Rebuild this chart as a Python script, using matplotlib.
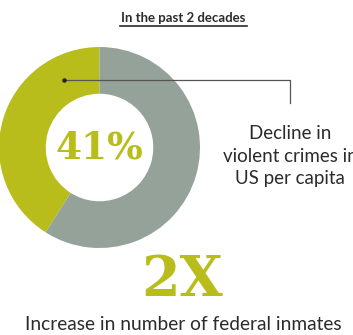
import matplotlib.pyplot as plt

# data
shares = [41, 59]
share_labels = ["Decline", "Rest"]
colors = ["#b9bd1b", "#94a29a"]
big_pct = "41%"
big_multiplier = "2X"
title = "In the past 2 decades"
note_pct = "Decline in\nviolent crimes in\nUS per capita"
note_mult = "Increase in number of federal inmates"

W, H = 353, 335
fig = plt.figure(figsize=(W / 100, H / 100), dpi=100)

# donut
pie_ax = fig.add_axes([-1 / W, (H - 248) / H, 201 / W, 201 / H])
pie_ax.pie(shares, colors=colors, startangle=90, counterclock=True,
           wedgeprops=dict(width=0.465, linewidth=0))
pie_ax.set_xlim(-1, 1)
pie_ax.set_ylim(-1, 1)
pie_ax.set_aspect("equal")
pie_ax.axis("off")

# overlay in pixel coordinates
ax = fig.add_axes([0, 0, 1, 1])
ax.set_xlim(0, W)
ax.set_ylim(H, 0)
ax.axis("off")

text_color = "#2b2b2b"
sans = "Lato"

ax.text(183, 18, title, ha="center", va="center", fontsize=9.5,
        fontweight="bold", color=text_color, family=sans)
ax.plot([120, 247], [25.5, 25.5], color=text_color, lw=1.2)

ax.text(99, 148, big_pct, ha="center", va="center", fontsize=27,
        fontweight="bold", color=colors[0], family="DejaVu Serif")

# leader line
ax.plot([64, 290, 290], [80, 80, 103], color="#555555", lw=0.9)
ax.plot([64], [80], "o", color="#222222", ms=2.2)

# the middle line runs off the right edge, as in the original
ax.text(290, 156, note_pct, ha="center", va="center", fontsize=13.5,
        color=text_color, family=sans, linespacing=1.4)

ax.text(182, 280, big_multiplier, ha="center", va="center", fontsize=40,
        fontweight="heavy", color=colors[0], family="DejaVu Serif")
ax.text(183, 324, note_mult, ha="center", va="center", fontsize=13.8,
        color=text_color, family=sans)

fig.savefig("out.png", dpi=100)
